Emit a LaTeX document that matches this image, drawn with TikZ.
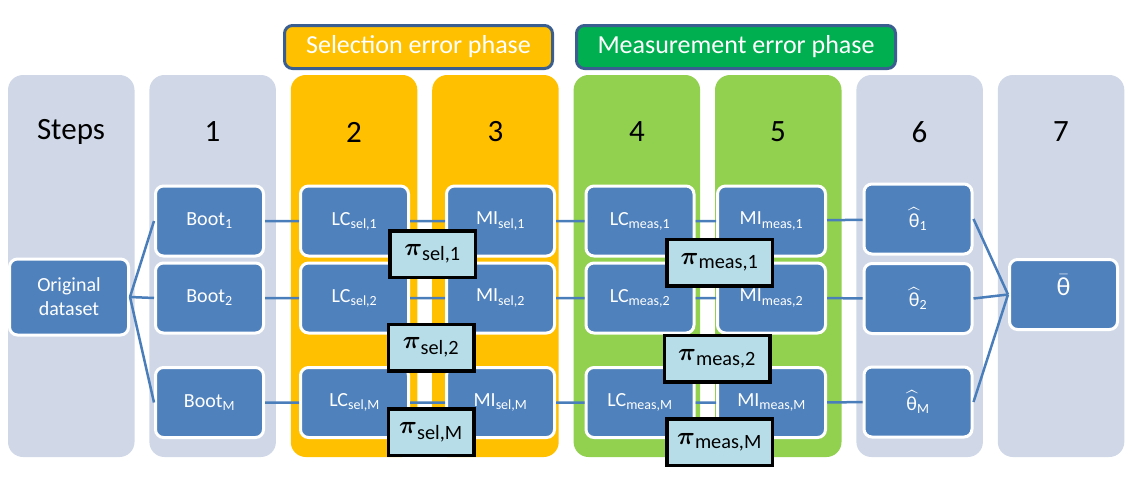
\documentclass[tikz,border=0pt]{standalone}
\usepackage{amsmath}
\usepackage{fontspec}
\setmainfont{Carlito}
\definecolor{colgrey}{HTML}{D0D8E8}
\definecolor{colorange}{HTML}{FFC000}
\definecolor{collime}{HTML}{92D050}
\definecolor{colgreen}{HTML}{00B050}
\definecolor{boxblue}{HTML}{4F81BD}
\definecolor{edgeblue}{HTML}{3B5E91}
\definecolor{lineblue}{HTML}{4A7EBB}
\definecolor{pibox}{HTML}{B7DEE8}
\newcommand{\bigpi}{{\fontsize{37}{37}\selectfont$\boldsymbol{\pi}$}}
\begin{document}
\begin{tikzpicture}[x=1pt, y=-1pt,
	blu/.style={draw=white, line width=3pt, fill=boxblue, rounded corners=8pt, minimum width=108pt, minimum height=70pt, inner sep=0pt, align=center, text=white, font=\fontsize{20}{24}\selectfont},
	pibx/.style={draw=black, line width=3.5pt, fill=pibox, minimum height=46.5pt, inner sep=0pt, font=\fontsize{29}{29}\selectfont},
	phase/.style={draw=edgeblue, line width=3pt, rounded corners=8pt, minimum height=43pt, inner sep=0pt, text=white, font=\fontsize{26}{26}\selectfont},
	hdr/.style={font=\fontsize{31}{31}\selectfont},
	conn/.style={draw=lineblue, line width=2.5pt}]
					\useasboundingbox (0,0) rectangle (1132,482);
					\fill[colgrey, rounded corners=15pt] (8,75) rectangle ++(126.5,382);
					\fill[colgrey, rounded corners=15pt] (149.4,75) rectangle ++(126.5,382);
					\fill[colorange, rounded corners=15pt] (290.8,75) rectangle ++(126.5,382);
					\fill[colorange, rounded corners=15pt] (432.2,75) rectangle ++(126.5,382);
					\fill[collime, rounded corners=15pt] (573.6,75) rectangle ++(126.5,382);
					\fill[collime, rounded corners=15pt] (715,75) rectangle ++(126.5,382);
					\fill[colgrey, rounded corners=15pt] (856.4,75) rectangle ++(126.5,382);
					\fill[colgrey, rounded corners=15pt] (997.8,75) rectangle ++(126.5,382);
					\node[hdr] (hd0) at (71,132) {Steps};
					\node[hdr] (hd1) at (212.5,132) {1};
					\node[hdr] (hd2) at (354,132) {2};
					\node[hdr] (hd3) at (495.5,132) {3};
					\node[hdr] (hd4) at (637,132) {4};
					\node[hdr] (hd5) at (778,132) {5};
					\node[hdr] (hd6) at (919.5,132) {6};
					\node[hdr] (hd7) at (1061,132) {7};
					\node[phase, fill=colorange, minimum width=268pt] (sel) at (418.5,47) {Selection error phase};
					\node[phase, fill=colgreen, minimum width=319pt] (meas) at (736,47) {Measurement error phase};
					\node[blu, minimum width=119pt, minimum height=76pt] (orig) at (69,297) {Original\\dataset};
					\node[blu] (b1) at (209.5,221) {Boot\textsubscript{1}};
					\node[blu] (b2) at (209.5,298) {Boot\textsubscript{2}};
					\node[blu] (bM) at (209.5,402.5) {Boot\textsubscript{M}};
					\node[blu] (lcs1) at (354.5,221) {LC\textsubscript{sel,1}};
					\node[blu] (lcs2) at (354.5,298) {LC\textsubscript{sel,2}};
					\node[blu] (lcsM) at (354.5,402.5) {LC\textsubscript{sel,M}};
					\node[blu] (mis1) at (500.5,221) {MI\textsubscript{sel,1}};
					\node[blu] (mis2) at (500.5,298) {MI\textsubscript{sel,2}};
					\node[blu] (misM) at (500.5,402.5) {MI\textsubscript{sel,M}};
					\node[blu] (lcm1) at (640,221) {LC\textsubscript{meas,1}};
					\node[blu] (lcm2) at (640,298) {LC\textsubscript{meas,2}};
					\node[blu] (lcmM) at (640,402.5) {LC\textsubscript{meas,M}};
					\node[blu] (mim1) at (771.5,221) {MI\textsubscript{meas,1}};
					\node[blu] (mim2) at (771.5,298) {MI\textsubscript{meas,2}};
					\node[blu] (mimM) at (771.5,402.5) {MI\textsubscript{meas,M}};
					\node[blu] (th1) at (918,219) {$\widehat{\text{θ}}_{\text{1}}$};
					\node[blu] (th2) at (918,298.5) {$\widehat{\text{θ}}_{\text{2}}$};
					\node[blu] (thM) at (918,402) {$\widehat{\text{θ}}_{\text{M}}$};
					\node[blu, font=\fontsize{26}{26}\selectfont, text depth=18pt] (thbar) at (1063.5,294.5) {$\bar{\text{θ}}$};
					\draw[conn] (orig.east) -- (b1.west);
					\draw[conn] (orig.east) -- (b2.west);
					\draw[conn] (orig.east) -- (bM.west);
					\draw[conn] (b1) -- (lcs1) -- (mis1) -- (lcm1) -- (mim1) -- (th1);
					\draw[conn] (b2) -- (lcs2) -- (mis2) -- (lcm2) -- (mim2) -- (th2);
					\draw[conn] (bM) -- (lcsM) -- (misM) -- (lcmM) -- (mimM) -- (thM);
					\draw[conn] (th1.east) -- (thbar.west);
					\draw[conn] (th2.east) -- (thbar.west);
					\draw[conn] (thM.east) -- (thbar.west);
					\node[pibx, minimum width=85.5pt] (ps1) at (432.5,254) {\bigpi\textsubscript{sel,1}};
					\node[pibx, minimum width=85.5pt] (ps2) at (431,347.5) {\bigpi\textsubscript{sel,2}};
					\node[pibx, minimum width=85.5pt] (psM) at (431,432) {\bigpi\textsubscript{sel,M}};
					\node[pibx, minimum width=105.5pt] (pm1) at (719.5,262.5) {\bigpi\textsubscript{meas,1}};
					\node[pibx, minimum width=105.5pt] (pm2) at (717,358.5) {\bigpi\textsubscript{meas,2}};
					\node[pibx, minimum width=105.5pt] (pmM) at (719.5,442) {\bigpi\textsubscript{meas,M}};
				\end{tikzpicture}
\end{document}
